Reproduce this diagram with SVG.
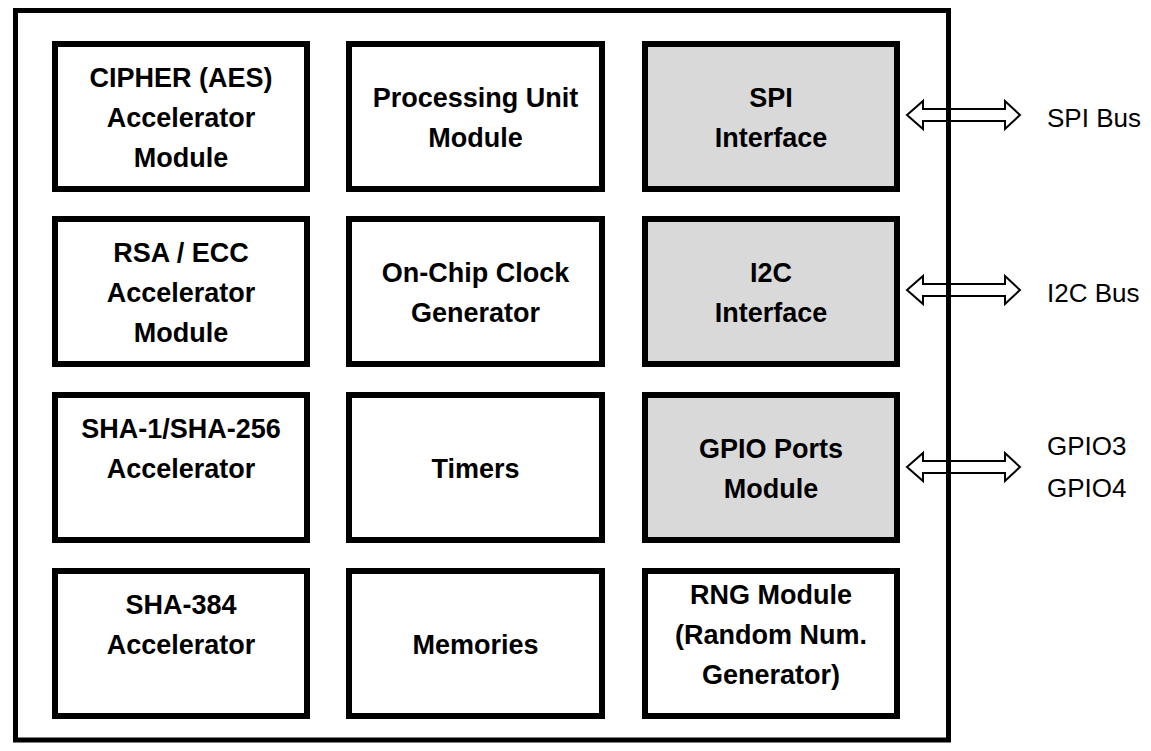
<svg xmlns="http://www.w3.org/2000/svg" width="1151" height="751" viewBox="0 0 1151 751">
<style>
.box{fill:#ffffff;stroke:#000000;stroke-width:6}
.gray{fill:#d9d9d9}
.t{font-family:"Liberation Sans",Arial,sans-serif;font-weight:bold;font-size:27px;text-anchor:middle;fill:#000000}
.lbl{font-family:"Liberation Sans",Arial,sans-serif;font-size:26px;fill:#000000}
.arr{fill:#ffffff;stroke:#000000;stroke-width:2;stroke-linejoin:miter}
</style>
<rect width="1151" height="751" fill="#ffffff"/>
<g id="connectors">
<path class="arr" d="M907,115 L923,101 L923,109 L1005,109 L1005,101 L1020,115 L1005,129 L1005,121 L923,121 L923,129 Z"/>
<path class="arr" d="M907,290 L923,276 L923,284 L1005,284 L1005,276 L1020,290 L1005,304 L1005,296 L923,296 L923,304 Z"/>
<path class="arr" d="M907,467 L923,453 L923,461 L1005,461 L1005,453 L1020,467 L1005,481 L1005,473 L923,473 L923,481 Z"/>
</g>
<g id="chip">
<rect x="15.5" y="10.5" width="933" height="729.5" fill="none" stroke="#000000" stroke-width="5"/>
</g>
<g id="cipher"><rect class="box" x="55" y="44" width="252" height="145"/>
<text class="t" x="181" y="87">CIPHER (AES)</text><text class="t" x="181" y="127">Accelerator</text><text class="t" x="181" y="167">Module</text></g>
<g id="rsa"><rect class="box" x="55" y="219" width="252" height="145"/>
<text class="t" x="181" y="262">RSA / ECC</text><text class="t" x="181" y="302">Accelerator</text><text class="t" x="181" y="342">Module</text></g>
<g id="sha1"><rect class="box" x="55" y="395" width="252" height="145"/>
<text class="t" x="181" y="438">SHA-1/SHA-256</text><text class="t" x="181" y="478">Accelerator</text></g>
<g id="sha384"><rect class="box" x="55" y="571" width="252" height="145"/>
<text class="t" x="181" y="614">SHA-384</text><text class="t" x="181" y="654">Accelerator</text></g>
<g id="cpu"><rect class="box" x="349" y="44" width="253" height="145"/>
<text class="t" x="475.5" y="107">Processing Unit</text><text class="t" x="475.5" y="147">Module</text></g>
<g id="clock"><rect class="box" x="349" y="219" width="253" height="145"/>
<text class="t" x="475.5" y="282">On-Chip Clock</text><text class="t" x="475.5" y="322">Generator</text></g>
<g id="timers"><rect class="box" x="349" y="395" width="253" height="145"/>
<text class="t" x="475.5" y="478">Timers</text></g>
<g id="memories"><rect class="box" x="349" y="571" width="253" height="145"/>
<text class="t" x="475.5" y="654">Memories</text></g>
<g id="spi"><rect class="box gray" x="645" y="44" width="252" height="145"/>
<text class="t" x="771" y="107">SPI</text><text class="t" x="771" y="147">Interface</text></g>
<g id="i2c"><rect class="box gray" x="645" y="219" width="252" height="145"/>
<text class="t" x="771" y="282">I2C</text><text class="t" x="771" y="322">Interface</text></g>
<g id="gpio"><rect class="box gray" x="645" y="395" width="252" height="145"/>
<text class="t" x="771" y="458">GPIO Ports</text><text class="t" x="771" y="498">Module</text></g>
<g id="rng"><rect class="box" x="645" y="571" width="252" height="145"/>
<text class="t" x="771" y="604">RNG Module</text><text class="t" x="771" y="644">(Random Num.</text><text class="t" x="771" y="684">Generator)</text></g>
<g id="labels">
<text class="lbl" x="1047" y="127">SPI Bus</text>
<text class="lbl" x="1047" y="302">I2C Bus</text>
<text class="lbl" x="1047" y="455">GPIO3</text>
<text class="lbl" x="1047" y="497">GPIO4</text>
</g>
</svg>
